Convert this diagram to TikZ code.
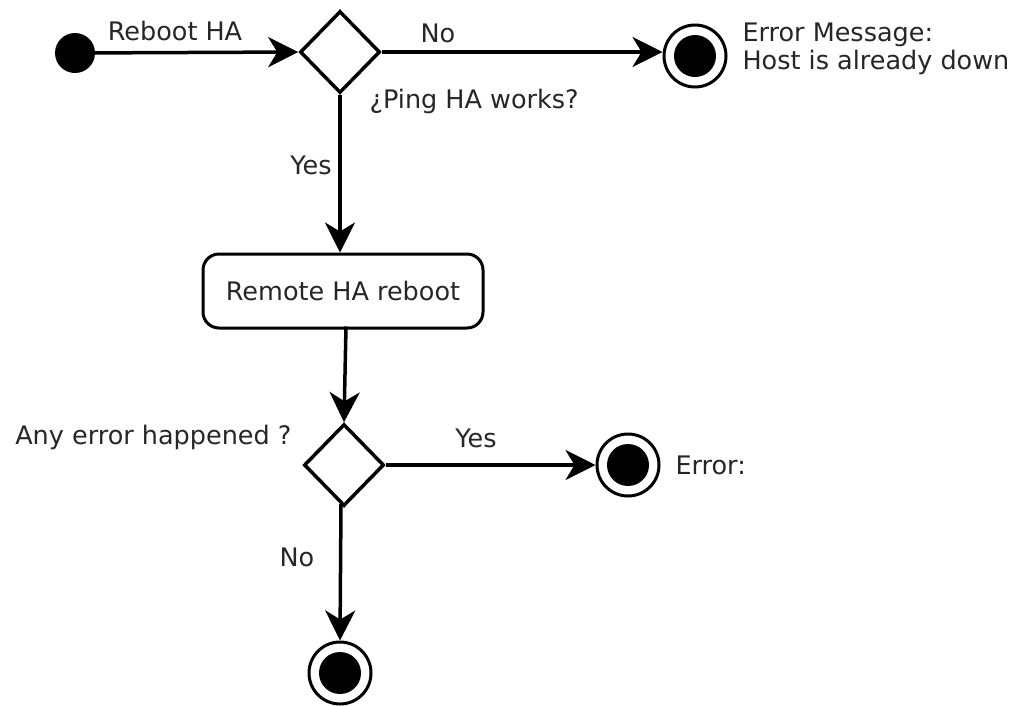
\documentclass[tikz,border=0pt]{standalone}
\usepackage{fontspec}
\setmainfont{DejaVu Sans}
\usetikzlibrary{arrows.meta,shapes.geometric}
\begin{document}
\begin{tikzpicture}[x=1pt,y=-1pt,
  every node/.style={font=\fontsize{25.5}{28}\selectfont, text=black!85},
  flow/.style={line width=3.5pt, -{Stealth[length=30pt,width=30pt,inset=9pt]}},
  initial/.style={circle, fill=black, minimum size=40pt, inner sep=0pt},
  decision/.style={diamond, draw, line width=3.5pt, minimum width=80pt, minimum height=82pt, inner sep=0pt, aspect=1},
  final/.style={circle, draw, line width=3pt, minimum size=62pt, inner sep=0pt,
    path picture={\fill[black] (path picture bounding box.center) circle[radius=21pt];}},
  activity/.style={rounded corners=16pt, draw, line width=3pt, minimum width=280pt, minimum height=74pt, inner sep=0pt}
]
\useasboundingbox (0,0) rectangle (1019,705);

% nodes
\node[initial] (start) at (75,53) {};
\node[decision] (d1) at (340,52) {};
\node[final] (f1) at (695,56) {};
\node[activity] (act) at (343,291) {Remote HA reboot};
\node[decision] (d2) at (344,465) {};
\node[final] (f2) at (628,465) {};
\node[final] (f3) at (340,673) {};

% labels
\node (lreboot) at (175,31) {Reboot HA};
\node (lno1) at (438,33) {No};
\node[anchor=west] (lping) at (366,101) {¿Ping HA works?};
\node (lyes1) at (311,165) {Yes};
\node[anchor=west, align=left] (lmsg) at (739,49) {Error Message:\\Host is already down};
\node[anchor=east] (lany) at (295,437) {Any error happened ?};
\node (lyes2) at (476,438) {Yes};
\node[anchor=west] (lerr) at (672,465) {Error:};
\node (lno2) at (297,557) {No};

% connectors
\draw[flow] (start) -- (d1.west);
\draw[flow] (d1.east) -- (d1.east -| f1.west);
\draw[flow] (d1.south) -- (act.north -| d1.south);
\draw[flow] ([xshift=3pt,yshift=3pt]act.south) -- (d2.north);
\draw[flow] (d2.east) -- (f2.west);
\draw[flow] ([xshift=-3pt,yshift=4pt]d2.south) -- (f3.north);
\end{tikzpicture}
\end{document}
